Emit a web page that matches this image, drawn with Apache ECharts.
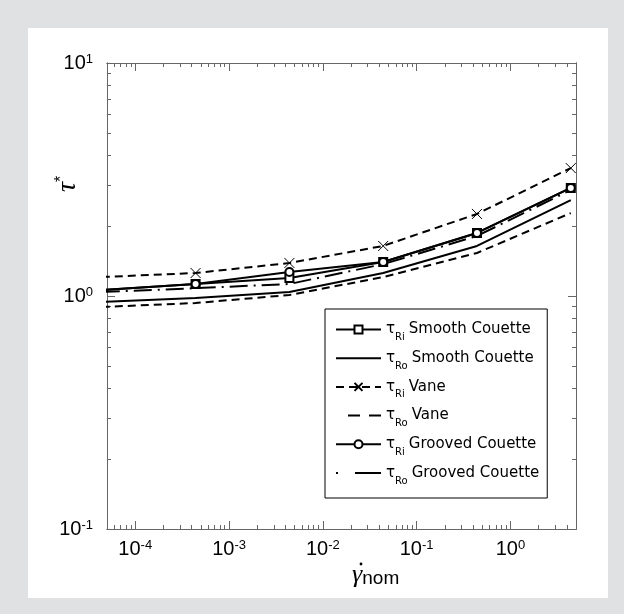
<!DOCTYPE html>
<html>
<head>
<meta charset="utf-8">
<script src="https://cdn.jsdelivr.net/npm/echarts@6/dist/echarts.min.js"></script>
<style>
  html, body { margin: 0; padding: 0; background: #e0e1e3; }
  #main { width: 624px; height: 614px; }
</style>
</head>
<body>
<div id="main"></div>
<script>
// shear rate (nominal) where each curve was sampled
var xVals = [4.4e-5, 4.4e-4, 4.4e-3, 4.4e-2, 0.44, 4.4];

var smoothRi  = [1.06, 1.126, 1.195, 1.40, 1.865, 2.91];
var smoothRo  = [0.942, 0.98, 1.04, 1.255, 1.64, 2.58];
var vaneRi    = [1.206, 1.255, 1.386, 1.64, 2.25, 3.54];
var vaneRo    = [0.897, 0.933, 1.01, 1.206, 1.53, 2.27];
var groovedRi = [1.06, 1.126, 1.268, 1.40, 1.865, 2.91];
var groovedRo = [1.04, 1.08, 1.126, 1.37, 1.81, 2.85];

var xMajor = [1e-4, 1e-3, 1e-2, 1e-1, 1];
var yMajor = [0.1, 1, 10];

var xMinor = [];
var yMinor = [];
for (var d = -5; d <= 0; d++) {
    for (var m = 2; m <= 9; m++) {
        var v = m * Math.pow(10, d);
        if (v > 5e-5 && v < 5) xMinor.push(v);
    }
}
for (var d = -1; d < 1; d++) {
    for (var m = 2; m <= 9; m++) {
        yMinor.push(m * Math.pow(10, d));
    }
}

function pairs(ys) {
    var out = [];
    for (var i = 0; i < xVals.length; i++) out.push([xVals[i], ys[i]]);
    return out;
}

var frame = '#666';
var crossPath = 'path://M0,0L10,10M10,0L0,10';

// legend icons for the curves drawn without markers (line only)
var iconSolid = 'path://M0,0M45,10M0,4h45v2h-45z';
var iconDash = 'path://M0,0M45,10M12,4h12v2h-12zM33,4h12v2h-12z';
var iconDashDot = 'path://M0,0M45,10M0,4h2v2h-2zM19,4h26v2h-26z';

function powLabel(v) {
    var e = Math.round(Math.log(v) / Math.LN10);
    return '{b|10}{s|' + e + '}';
}
var powRich = {
    b: { fontSize: 20, lineHeight: 20, fontFamily: 'Liberation Sans', color: '#000' },
    s: { fontSize: 13, lineHeight: 13, verticalAlign: 'top', fontFamily: 'Liberation Sans', color: '#000' }
};

function xAx(pos, ticks, len, labels) {
    return {
        type: 'log', min: 5e-5, max: 5, position: pos,
        axisLine: { show: true, onZero: false, lineStyle: { color: frame, width: 1 } },
        axisTick: { show: true, inside: true, length: len, customValues: ticks, lineStyle: { color: frame } },
        axisLabel: labels ? { show: true, customValues: xMajor, formatter: powLabel, rich: powRich, margin: 10 } : { show: false },
        splitLine: { show: false }, minorTick: { show: false }
    };
}
function yAx(pos, ticks, len, labels) {
    return {
        type: 'log', min: 0.1, max: 10, position: pos,
        axisLine: { show: true, onZero: false, lineStyle: { color: frame, width: 1 } },
        axisTick: { show: true, inside: true, length: len, customValues: ticks, lineStyle: { color: frame } },
        axisLabel: labels ? { show: true, customValues: yMajor, formatter: powLabel, rich: powRich, margin: 14 } : { show: false },
        splitLine: { show: false }, minorTick: { show: false }
    };
}

function line(name, ys, dash, symbol, size) {
    return {
        name: name,
        type: 'line',
        data: pairs(ys),
        clip: true,
        symbol: symbol || 'none',
        symbolSize: size || 8,
        showSymbol: !!symbol,
        lineStyle: { color: '#000', width: 2, type: dash },
        itemStyle: { color: '#000', borderColor: '#000', borderWidth: 1 },
        emphasis: { disabled: true },
        animation: false
    };
}

var dom = document.getElementById('main');
var myChart = echarts.init(dom);
var option = {
    backgroundColor: '#e0e1e3',
    animation: false,
    graphic: [
        { type: 'rect', z: -1, shape: { x: 28, y: 28, width: 580, height: 570 }, style: { fill: '#fff' } },
        {
            type: 'text', x: 68, y: 184, rotation: Math.PI / 2,
            style: {
                text: '{t|τ}{s|*}', align: 'center', verticalAlign: 'middle',
                rich: {
                    t: { fontFamily: 'Liberation Serif', fontStyle: 'italic', fontSize: 28, lineHeight: 28, fill: '#000' },
                    s: { fontFamily: 'Liberation Sans', fontSize: 16, lineHeight: 16, verticalAlign: 'top', fill: '#000' }
                }
            }
        },
        {
            type: 'text', x: 352, y: 575,
            style: {
                text: '{g|γ}{n|nom}', align: 'left', verticalAlign: 'middle',
                rich: {
                    g: { fontFamily: 'Liberation Serif', fontStyle: 'italic', fontSize: 26, lineHeight: 26, fill: '#000' },
                    n: { fontFamily: 'Liberation Sans', fontSize: 19, lineHeight: 19, verticalAlign: 'bottom', fill: '#000' }
                }
            }
        },
        { type: 'circle', shape: { cx: 361, cy: 564, r: 1.4 }, style: { fill: '#000' } }
    ],
    grid: { left: 107, top: 63, right: 48, bottom: 85, containLabel: false, outerBoundsMode: 'none' },
    xAxis: [
        xAx('bottom', xMajor, 8, true),
        xAx('bottom', xMinor, 4, false),
        xAx('top', xMajor, 8, false),
        xAx('top', xMinor, 4, false)
    ],
    yAxis: [
        yAx('left', yMajor, 8, true),
        yAx('left', yMinor, 4, false),
        yAx('right', yMajor, 8, false),
        yAx('right', yMinor, 4, false)
    ],
    legend: {
        orient: 'vertical',
        left: 325, top: 309,
        padding: [13, 8, 12, 10],
        itemGap: 8.2,
        itemWidth: 45,
        itemHeight: 10,
        backgroundColor: '#fff',
        borderColor: '#000',
        borderWidth: 1,
        borderRadius: 0,
        selectedMode: false,
        data: [
            { name: 'τRi Smooth Couette' },
            { name: 'τRo Smooth Couette', icon: iconSolid, itemStyle: { borderWidth: 0 } },
            { name: 'τRi Vane' },
            { name: 'τRo Vane', icon: iconDash, itemStyle: { borderWidth: 0 } },
            { name: 'τRi Grooved Couette' },
            { name: 'τRo Grooved Couette', icon: iconDashDot, itemStyle: { borderWidth: 0 } }
        ],
        formatter: function (name) {
            return '{t|τ}{sub|' + name.slice(1, 3) + '}{n|' + name.slice(4) + '}';
        },
        textStyle: {
            fontFamily: 'DejaVu Sans', fontSize: 15, color: '#000',
            rich: {
                t: { fontSize: 15, lineHeight: 26 },
                sub: { fontSize: 10, lineHeight: 10, verticalAlign: 'bottom', padding: [0, 4, 0, 0] },
                n: { fontSize: 15, lineHeight: 26 }
            }
        }
    },
    series: [
        line('τRi Smooth Couette', smoothRi, 'solid', 'emptyRect', 8),
        line('τRo Smooth Couette', smoothRo, 'solid'),
        line('τRi Vane', vaneRi, [8, 5], crossPath, 10),
        line('τRo Vane', vaneRo, [8, 5]),
        line('τRi Grooved Couette', groovedRi, 'solid', 'emptyCircle', 8),
        line('τRo Grooved Couette', groovedRo, [18, 6, 2, 6])
    ]
};
myChart.setOption(option);
</script>
</body>
</html>
